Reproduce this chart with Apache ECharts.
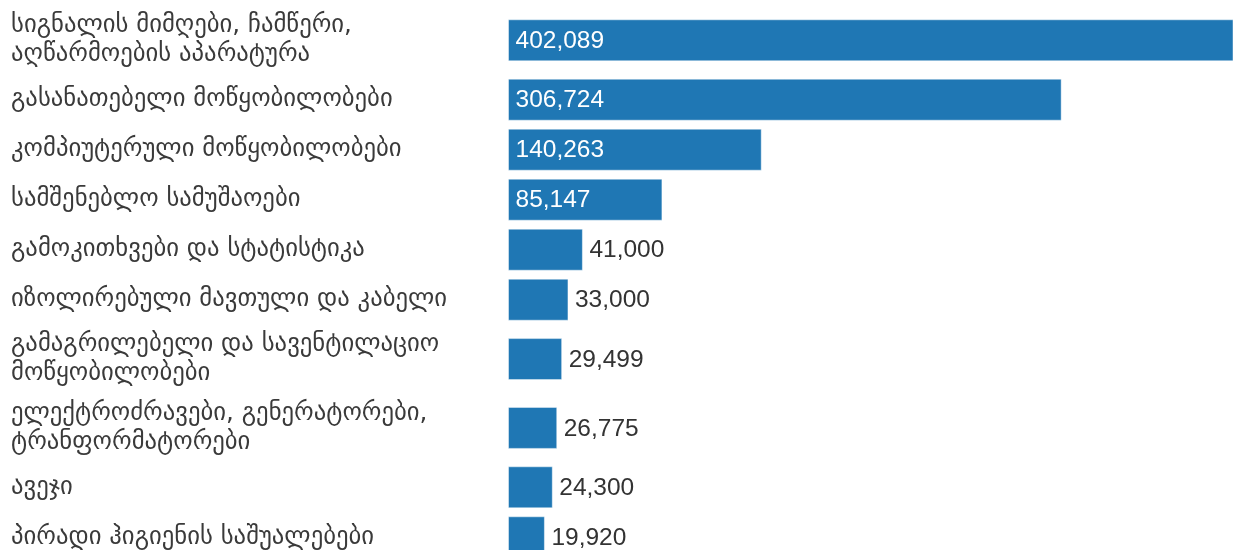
<!DOCTYPE html>
<html><head><meta charset="utf-8">
<script src="https://cdn.jsdelivr.net/npm/echarts@6/dist/echarts.min.js"></script>
<style>html,body{margin:0;padding:0;background:#fff}#c{width:1233px;height:550px}</style>
</head><body><div id="c"></div>
<script>
const categories = [
  'სიგნალის მიმღები, ჩამწერი,\nაღწარმოების აპარატურა',
  'გასანათებელი მოწყობილობები',
  'კომპიუტერული მოწყობილობები',
  'სამშენებლო სამუშაოები',
  'გამოკითხვები და სტატისტიკა',
  'იზოლირებული მავთული და კაბელი',
  'გამაგრილებელი და სავენტილაციო\nმოწყობილობები',
  'ელექტროძრავები, გენერატორები,\nტრანფორმატორები',
  'ავეჯი',
  'პირადი ჰიგიენის საშუალებები'
];
const values = [402089, 306724, 140263, 85147, 41000, 33000, 29499, 26775, 24300, 19920];

// row layout derived from the number of label lines (units = pixels)
const ROW = 50, EXTRA_LINE = 18.8, BAR = 41, TOP = 5.9;
const centers = [];
let acc = 0;
categories.forEach(function (c) {
  const h = ROW + EXTRA_LINE * (c.split('\n').length - 1);
  centers.push(acc + h / 2);
  acc += h;
});
const fmt = v => v.toLocaleString('en-US');

const chart = echarts.init(document.getElementById('c'), null, {renderer: 'canvas'});
const gridH = 550 - TOP;
chart.setOption({
  animation: false,
  grid: {left: 508.5, top: TOP, width: 730, height: gridH, containLabel: false},
  xAxis: {type: 'value', min: 0, max: Math.max.apply(null, values), show: false},
  yAxis: {type: 'value', inverse: true, min: 0, max: gridH, show: false},
  series: [{
    type: 'custom',
    clip: false,
    data: values.map((v, i) => [v, centers[i], i]),
    encode: {x: 0, y: 1},
    renderItem: function (params, api) {
      const v = api.value(0), c = api.value(1), i = api.value(2);
      const p0 = api.coord([0, c]);
      const p1 = api.coord([v, c]);
      const h = api.size([0, BAR])[1];
      const w = p1[0] - p0[0];
      const inside = w > 120;
      return {
        type: 'group',
        children: [
          {type: 'rect', shape: {x: p0[0], y: p0[1] - h / 2, width: w, height: h},
           style: {fill: '#1f77b4', stroke: 'rgba(255,255,255,0.45)', lineWidth: 1}},
          {type: 'text', x: inside ? p0[0] + 7 : p1[0] + 7, y: p0[1] + 1,
           style: {text: fmt(v), fill: inside ? '#ffffff' : '#333333',
                   font: '24.5px "Liberation Sans", Arial, sans-serif',
                   textAlign: 'left', textVerticalAlign: 'middle'}},
          {type: 'text', x: 11, y: p0[1],
           style: {text: categories[i], fill: '#3a3a3a',
                   font: '24.7px "DejaVu Sans", sans-serif', lineHeight: 29,
                   textAlign: 'left', textVerticalAlign: 'middle'}}
        ]
      };
    }
  }]
});
</script></body></html>
